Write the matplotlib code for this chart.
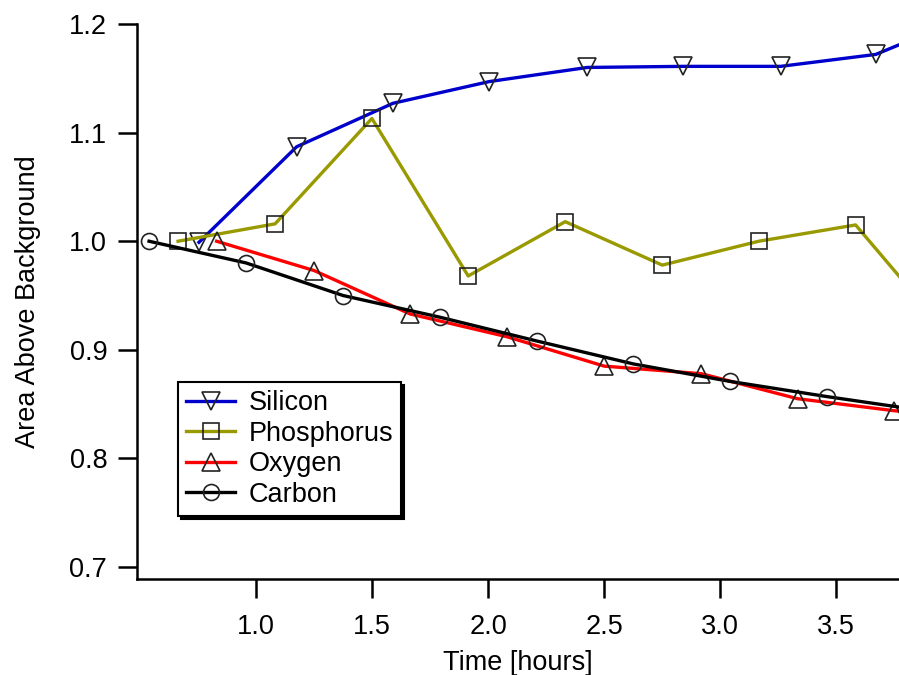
import matplotlib
matplotlib.use("Agg")
import matplotlib.pyplot as plt

plt.rcParams['font.family'] = ['Liberation Sans', 'DejaVu Sans']

# Data (time in hours, area above background)
si_t = [0.754, 1.175, 1.590, 2.005, 2.427, 2.840, 3.260, 3.670, 4.090]
si_v = [0.999, 1.087, 1.127, 1.147, 1.160, 1.161, 1.161, 1.172, 1.209]

p_t = [0.664, 1.082, 1.499, 1.914, 2.332, 2.750, 3.166, 3.583, 4.000]
p_v = [1.000, 1.016, 1.113, 0.968, 1.018, 0.978, 1.000, 1.015, 0.910]

o_t = [0.830, 1.250, 1.664, 2.082, 2.500, 2.919, 3.333, 3.747, 4.165]
o_v = [1.000, 0.973, 0.933, 0.912, 0.885, 0.878, 0.855, 0.844, 0.835]

c_t = [0.539, 0.957, 1.375, 1.793, 2.212, 2.626, 3.040, 3.458, 3.876]
c_v = [1.000, 0.980, 0.950, 0.930, 0.908, 0.887, 0.871, 0.857, 0.844]

x_ticks = [1.0, 1.5, 2.0, 2.5, 3.0, 3.5]
y_ticks = [0.7, 0.8, 0.9, 1.0, 1.1, 1.2]

W, H = 899, 675
fig = plt.figure(figsize=(W / 100, H / 100), dpi=100)
ax = fig.add_axes([137 / W, 1 - 579 / H, 1 - 137 / W, (579 - 24) / H])

fs = 19.5
mkw = dict(markerfacecolor='none', markeredgecolor='#222222', markeredgewidth=1.2)
ax.plot(si_t, si_v, color='#0000CC', lw=2.4, marker='v', ms=13, label='Silicon', **mkw)
ax.plot(p_t, p_v, color='#999900', lw=2.4, marker='s', ms=11, label='Phosphorus', **mkw)
ax.plot(o_t, o_v, color='#FF0000', lw=2.4, marker='^', ms=13, label='Oxygen', **mkw)
ax.plot(c_t, c_v, color='black', lw=2.4, marker='o', ms=11.5, label='Carbon', **mkw)

ax.set_xlim(0.487, 3.77)
ax.set_ylim(0.689, 1.2)
ax.set_xticks(x_ticks)
ax.set_xticklabels([f"{v:.1f}" for v in x_ticks])
ax.set_yticks(y_ticks)
ax.set_yticklabels([f"{v:.1f}" for v in y_ticks])
ax.tick_params(direction='out', length=13.5, width=1.8, labelsize=fs, color='black')
ax.tick_params(axis='x', pad=12)
ax.tick_params(axis='y', pad=8)

for s in ['top', 'right']:
    ax.spines[s].set_visible(False)
for s in ['left', 'bottom']:
    ax.spines[s].set_linewidth(1.8)
    ax.spines[s].set_color('black')

ax.set_xlabel('Time [hours]', fontsize=fs, labelpad=7)
ax.set_ylabel('Area Above Background', fontsize=fs, labelpad=20)

leg = ax.legend(loc='upper left', bbox_to_anchor=(178 / W, 1 - 382 / H),
                bbox_transform=fig.transFigure, borderaxespad=0,
                fontsize=fs, frameon=True, fancybox=False,
                shadow={'color': 'black', 'alpha': 1.0},
                handlelength=1.8, handletextpad=0.5, labelspacing=0.17,
                borderpad=0.3)
leg.get_frame().set_edgecolor('black')
leg.get_frame().set_linewidth(1.5)
leg.get_frame().set_alpha(1.0)

fig.savefig('out.png', dpi=100)
